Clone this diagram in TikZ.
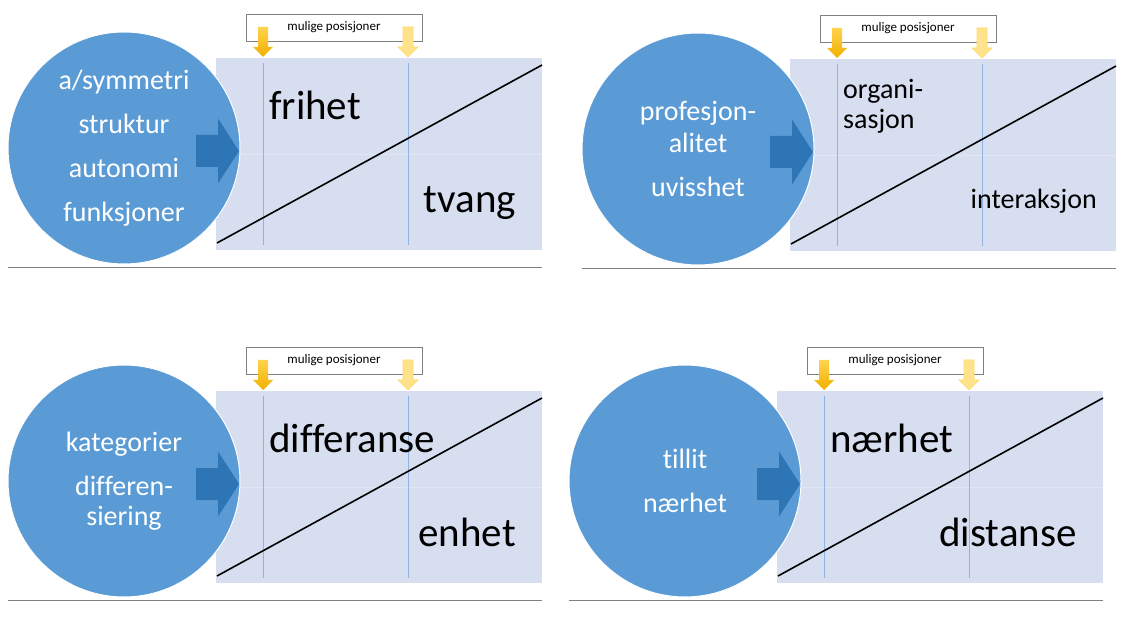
\documentclass[tikz,border=0pt]{standalone}
\usepackage{fontspec}
\setmainfont{Carlito}[Ligatures=NoCommon]
\usetikzlibrary{positioning}

\definecolor{sirkelblaa}{HTML}{5B9BD5}
\definecolor{pilblaa}{HTML}{2E75B6}
\definecolor{flateblaa}{HTML}{D6DEF0}
\definecolor{strekblaa}{HTML}{8DB4E2}
\definecolor{strekgraa}{HTML}{808080}
\definecolor{gultopp}{HTML}{FFD34E}
\definecolor{gulbunn}{HTML}{F2B000}
\definecolor{gullys}{HTML}{FFE38C}
\definecolor{gulkant}{HTML}{FFD966}

\tikzset{
  flate/.style={fill=flateblaa, inner sep=0pt, minimum width=326pt, minimum height=192pt},
  saum/.style={white, opacity=.25, line width=.6pt},
  posstrek/.style={strekblaa, line width=.8pt},
  diagonal/.style={black, line width=1.6pt},
  posboks/.style={draw=strekgraa, fill=white, line width=.8pt, inner sep=0pt,
    minimum width=176pt, minimum height=27pt, font=\fontsize{13}{15}\selectfont},
  pilmork/.style={top color=gultopp, bottom color=gulbunn},
  pillys/.style={fill=gullys, draw=gulkant, line width=.6pt},
  sirkel/.style={circle, fill=sirkelblaa, draw=white, line width=1pt, minimum size=232pt,
    inner sep=0pt, text=white, align=center, font=\fontsize{28}{44}\selectfont},
  storskrift/.style={font=\fontsize{41}{45}\selectfont, text=black, inner sep=0pt},
  mellomskrift/.style={font=\fontsize{28}{30}\selectfont},
  skille/.style={strekgraa, line width=.9pt}
}

% #1 forskyvning, #2 navn, #3 sirkeltekst, #4 over, #5 under, #6/#7 ekstra valg
\newcommand{\posisjonspanel}[7]{%
  \begin{scope}[shift={#1}]
    % flate med streker
    \node[flate, anchor=north west] (#2flate) at (0,0) {};
    \draw[saum] (#2flate.west) -- (#2flate.east);
    \foreach \x in {47,192}
      \draw[posstrek] (\x,5) -- (\x,187);
    \draw[diagonal] (1,185) -- (326,7);
    % boks med gule piler
    \node[posboks] (#2boks) at (118,-30.5) {mulige posisjoner};
    \foreach \x/\pil in {47/pilmork,192/pillys}
      \path[\pil] (\x-5,-31) -- (\x+5,-31) -- (\x+5,-11) -- (\x+10,-11)
        -- (\x,-1) -- (\x-10,-11) -- (\x-5,-11) -- cycle;
    % sirkel og blaa pil
    \node[sirkel] (#2sirkel) at (-92,90) {#3};
    \fill[pilblaa] (-20,77) -- (2,77) -- (2,60.5) -- (23,93)
      -- (2,125.5) -- (2,109) -- (-20,109) -- cycle;
    \node[storskrift, anchor=west, #6] (#2over) at (53,47.5) {#4};
    \node[storskrift, anchor=base east, #7] (#2under) at (300,155) {#5};
    \draw[skille] (-208,209) -- (326,209);
  \end{scope}}

\begin{document}
\begin{tikzpicture}[x=1pt, y=-1pt]
  \useasboundingbox (0,0) rectangle (1135,617);
  \fill[white] (0,0) rectangle (1135,617);

  \posisjonspanel{(216,58)}{a}{a/symmetri\\struktur\\autonomi\\funksjoner}
    {frihet}{tvang}{}{}
  \posisjonspanel{(790,59)}{b}{profesjon-\\[-12pt]alitet\\uvisshet}
    {organi-\\sasjon}{interaksjon}{mellomskrift, align=left}{mellomskrift, xshift=7pt, yshift=5pt}
  \posisjonspanel{(216,391)}{c}{kategorier\\differen-\\[-14pt]siering}
    {differanse}{enhet}{}{}
  \posisjonspanel{(777,391)}{d}{tillit\\nærhet}
    {nærhet}{distanse}{}{}
\end{tikzpicture}
\end{document}
